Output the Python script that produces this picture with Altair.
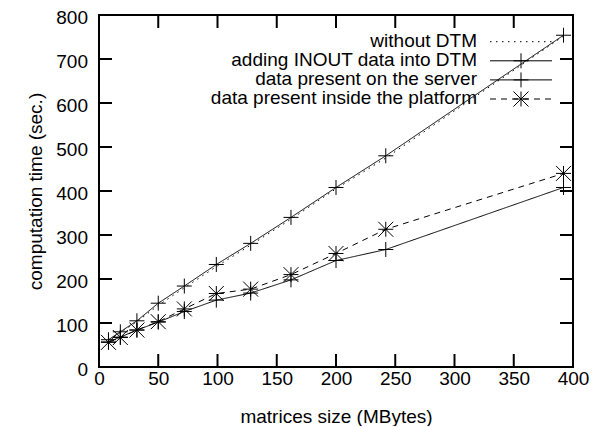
import altair as alt
import pandas as pd

FONT = "Liberation Sans"

# ---- data ----
sizes = [8, 18, 32, 50, 72, 99, 128, 162, 200, 242, 392]
without_dtm = [60, 78, 103, 140, 180, 228, 277, 336, 405, 475, 752]
adding_inout = [62, 80, 105, 145, 184, 233, 281, 340, 408, 480, 754]
on_server = [57, 68, 84, 102, 126, 152, 168, 198, 242, 267, 408]
inside_platform = [56, 67, 84, 103, 132, 167, 177, 210, 258, 313, 440]

series_names = [
    "without DTM",
    "adding INOUT data into DTM",
    "data present on the server",
    "data present inside the platform",
]
x_ticks = [0, 50, 100, 150, 200, 250, 300, 350, 400]
y_ticks = [0, 100, 200, 300, 400, 500, 600, 700, 800]

# ---- styles ----
PLUS = "M-1,0L1,0M0,-1L0,1"
STAR = "M-1,0L1,0M0,-1L0,1M-1,-1L1,1M-1,1L1,-1"
dashes = {
    "without DTM": [1.5, 4.5],
    "adding INOUT data into DTM": [1, 0],
    "data present on the server": [1, 0],
    "data present inside the platform": [6, 5],
}
shapes = {
    "adding INOUT data into DTM": PLUS,
    "data present on the server": PLUS,
    "data present inside the platform": STAR,
}

W, H = 474, 352
TICK = 13

rows = []
for name, vals in zip(series_names, [without_dtm, adding_inout, on_server, inside_platform]):
    for x, y in zip(sizes, vals):
        rows.append({"series": name, "size": x, "time": y})
df = pd.DataFrame(rows)

xscale = alt.Scale(domain=[0, 400], nice=False, zero=False)
yscale = alt.Scale(domain=[0, 800], nice=False, zero=False)

xaxis = alt.Axis(
    values=x_ticks, ticks=False, tickSize=0, domain=False, grid=False,
    labelFlush=False, labelOverlap=False, labelPadding=2,
    labelFont=FONT, labelFontSize=19, labelColor="black",
    title="matrices size (MBytes)", titleFont=FONT, titleFontSize=19,
    titleFontWeight="normal", titleColor="black",
    titleY=55, titleBaseline="alphabetic",
)
yaxis = alt.Axis(
    values=y_ticks, ticks=False, tickSize=0, domain=False, grid=False,
    labelOverlap=False, labelPadding=11.5,
    labelBaseline="alphabetic", labelOffset=8.5,
    labelFont=FONT, labelFontSize=19, labelColor="black",
    title="computation time (sec.)", titleFont=FONT, titleFontSize=19,
    titleFontWeight="normal", titleColor="black",
    titleX=-58, titleY=H / 2, titleBaseline="alphabetic", titleAngle=270,
)

X = alt.X("size:Q", scale=xscale, axis=xaxis)
Y = alt.Y("time:Q", scale=yscale, axis=yaxis)

lines = alt.Chart(df).mark_line(color="black", strokeWidth=1).encode(
    x=X, y=Y,
    strokeDash=alt.StrokeDash(
        "series:N",
        scale=alt.Scale(domain=series_names, range=[dashes[s] for s in series_names]),
        legend=None,
    ),
    detail="series:N",
)

pt_names = series_names[1:]
points = alt.Chart(df).transform_filter(
    alt.FieldOneOfPredicate(field="series", oneOf=pt_names)
).mark_point(filled=False, stroke="black", strokeWidth=1, opacity=1, size=225).encode(
    x=X, y=Y,
    shape=alt.Shape(
        "series:N",
        scale=alt.Scale(domain=pt_names, range=[shapes[s] for s in pt_names]),
        legend=None,
    ),
)

xt = pd.DataFrame({"size": x_ticks})
yt = pd.DataFrame({"time": y_ticks})
tick_layers = [
    alt.Chart(yt).mark_rule(color="black", strokeWidth=2).encode(
        y=Y, x=alt.value(0), x2=alt.value(TICK)),
    alt.Chart(yt).mark_rule(color="black", strokeWidth=2).encode(
        y=Y, x=alt.value(W - TICK), x2=alt.value(W)),
    alt.Chart(xt).mark_rule(color="black", strokeWidth=2).encode(
        x=X, y=alt.value(H - TICK), y2=alt.value(H)),
    alt.Chart(xt).mark_rule(color="black", strokeWidth=2).encode(
        x=X, y=alt.value(0), y2=alt.value(TICK)),
]

# plot border (gnuplot box)
frame = alt.Chart(pd.DataFrame({"f": [0]})).mark_rect(
    filled=False, stroke="black", strokeWidth=2
).encode(x=alt.value(0), x2=alt.value(W), y=alt.value(0), y2=alt.value(H))

# ---- manual gnuplot-style key ----
KEY_TEXT_X = 378
KEY_LINE_X1, KEY_LINE_X2, KEY_MARK_X = 391, 453, 422
KEY_Y0, KEY_DY = 26.7, 19.1
key_layers = []
for i, name in enumerate(series_names):
    ky = KEY_Y0 + i * KEY_DY
    kdf = pd.DataFrame({"label": [name]})
    key_layers.append(
        alt.Chart(kdf).mark_text(
            align="right", baseline="alphabetic", font=FONT, fontSize=19, color="black"
        ).encode(x=alt.value(KEY_TEXT_X), y=alt.value(ky + 5), text="label:N")
    )
    key_layers.append(
        alt.Chart(kdf).mark_rule(color="black", strokeWidth=1, strokeDash=dashes[name]).encode(
            x=alt.value(KEY_LINE_X1), x2=alt.value(KEY_LINE_X2), y=alt.value(ky))
    )
    if name in shapes:
        key_layers.append(
            alt.Chart(kdf).mark_point(
                filled=False, stroke="black", strokeWidth=1, opacity=1, size=225, shape=shapes[name]
            ).encode(x=alt.value(KEY_MARK_X), y=alt.value(ky))
        )

chart = alt.layer(lines, points, *tick_layers, frame, *key_layers).properties(
    width=W, height=H,
    padding={"left": 91, "top": 7, "right": 22, "bottom": 59},
    autosize=alt.AutoSizeParams(type="none"),
    background="white",
).configure_view(stroke=None)

chart.save("out.html", embed_options={"renderer": "svg", "actions": False})
